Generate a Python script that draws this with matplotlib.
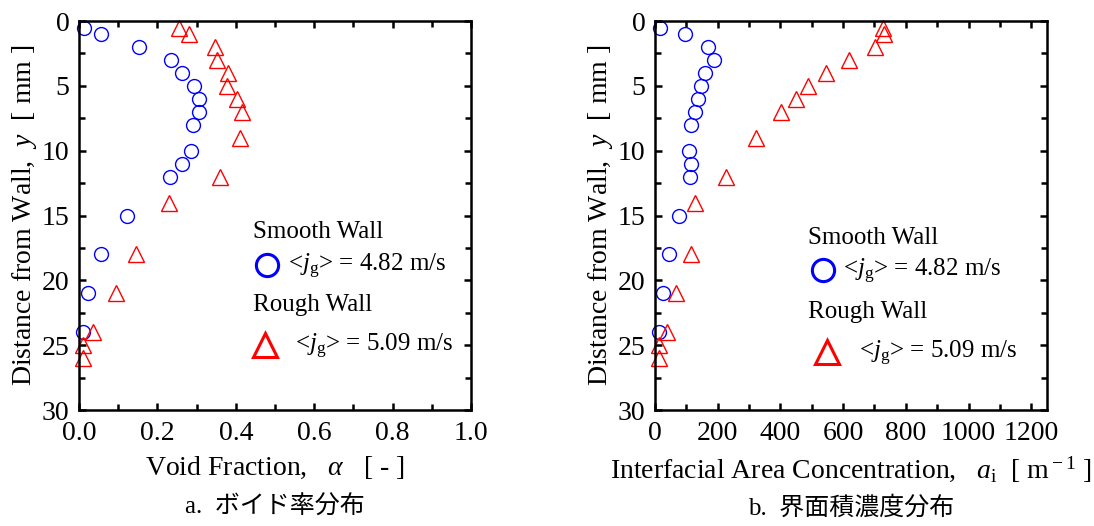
import matplotlib
matplotlib.use("Agg")
import matplotlib.pyplot as plt
from matplotlib.ticker import MultipleLocator, FormatStrFormatter

plt.rcParams["font.family"] = ["Liberation Serif", "Noto Sans CJK JP"]
plt.rcParams["mathtext.fontset"] = "custom"
plt.rcParams["mathtext.rm"] = "Liberation Serif"
plt.rcParams["mathtext.it"] = "Liberation Serif:italic"

# distance from wall [mm]
y_smooth = [0.5, 1, 2, 3, 4, 5, 6, 7, 8, 10, 11, 12, 15, 18, 21, 24]
y_rough = [0.5, 1, 2, 3, 4, 5, 6, 7, 9, 12, 14, 18, 21, 24, 25, 26]

# void fraction
alpha_smooth = [0.013, 0.056, 0.154, 0.234, 0.264, 0.293, 0.307, 0.306,
                0.292, 0.285, 0.263, 0.232, 0.122, 0.055, 0.024, 0.011]
alpha_rough = [0.255, 0.280, 0.347, 0.353, 0.381, 0.378, 0.402, 0.416,
               0.412, 0.361, 0.230, 0.145, 0.094, 0.035, 0.010, 0.010]

# interfacial area concentration [1/m]
ai_smooth = [17, 97, 168, 188, 160, 147, 137, 127,
             116, 107, 115, 112, 77, 44, 24, 14]
ai_rough = [727, 730, 701, 618, 544, 487, 450, 402,
            323, 226, 129, 114, 66, 39, 14, 14]

BLUE = "#0000ff"
RED = "#ff0000"
FS = 20

fig = plt.figure(figsize=(10.94, 5.26), dpi=100)
ax1 = fig.add_axes([0.0722, 0.2205, 0.3583, 0.7395])
ax2 = fig.add_axes([0.5987, 0.2205, 0.3583, 0.7395])


def style_axes(ax):
    ax.set_ylim(30, 0)
    ax.yaxis.set_major_locator(MultipleLocator(5))
    ax.yaxis.set_minor_locator(MultipleLocator(2.5))
    ax.tick_params(which="both", direction="in", top=True, right=True,
                   width=1.8, labelsize=FS)
    ax.tick_params(which="major", length=5, pad=7)
    ax.tick_params(which="minor", length=4)
    ax.tick_params(axis="x", which="major", pad=8)
    for sp in ax.spines.values():
        sp.set_linewidth(1.8)
    ax.set_ylabel("Distance from Wall,  $y$  [ mm ]", fontsize=FS, labelpad=2)


def draw_legend(ax, pos):
    (sx, sy), (cx, cy), (tx1, ty1), (rx, ry), (trx, try_), (tx2, ty2) = pos
    ax.text(sx, sy, "Smooth Wall", transform=ax.transAxes, fontsize=18, va="center")
    ax.plot([cx], [cy], "o", ms=16, mfc="none", mec=BLUE, mew=2.2,
            transform=ax.transAxes, clip_on=False)
    ax.text(tx1, ty1, r"<$j_{\rm g}$> = 4.82 m/s", transform=ax.transAxes,
            fontsize=18, va="center")
    ax.text(rx, ry, "Rough Wall", transform=ax.transAxes, fontsize=18, va="center")
    ax.plot([trx], [try_], "^", ms=17, mfc="none", mec=RED, mew=2.2,
            transform=ax.transAxes, clip_on=False)
    ax.text(tx2, ty2, r"<$j_{\rm g}$> = 5.09 m/s", transform=ax.transAxes,
            fontsize=18, va="center")


# panel a
ax1.plot(alpha_smooth, y_smooth, "o", ms=10, mfc="none", mec=BLUE, mew=1, clip_on=False)
ax1.plot(alpha_rough, y_rough, "^", ms=12, mfc="none", mec=RED, mew=1, clip_on=False)
ax1.set_xlim(0, 1.0)
ax1.xaxis.set_major_locator(MultipleLocator(0.2))
ax1.xaxis.set_minor_locator(MultipleLocator(0.1))
ax1.xaxis.set_major_formatter(FormatStrFormatter("%.1f"))
style_axes(ax1)
ax1.set_xlabel(r"Void Fraction,   $\alpha$   [ - ]", fontsize=FS, labelpad=6)
draw_legend(ax1, [(0.444, 0.458), (0.480, 0.373), (0.533, 0.370),
                  (0.444, 0.270), (0.474, 0.167), (0.551, 0.164)])

# panel b
ax2.plot(ai_smooth, y_smooth, "o", ms=10, mfc="none", mec=BLUE, mew=1, clip_on=False)
ax2.plot(ai_rough, y_rough, "^", ms=12, mfc="none", mec=RED, mew=1, clip_on=False)
ax2.set_xlim(0, 1250)
ax2.xaxis.set_major_locator(MultipleLocator(200))
ax2.xaxis.set_minor_locator(MultipleLocator(100))
style_axes(ax2)
ax2.set_xlabel(r"Interfacial Area Concentration,   $a_{\rm i}$  [ m$^{\rm -1}$ ]",
               fontsize=FS, labelpad=6)
draw_legend(ax2, [(0.390, 0.442), (0.429, 0.360), (0.480, 0.357),
                  (0.390, 0.252), (0.439, 0.149), (0.520, 0.146)])

fig.text(0.2514, 0.035, "a.  ボイド率分布", ha="center", va="center", fontsize=18)
fig.text(0.7779, 0.035, "b.  界面積濃度分布", ha="center", va="center", fontsize=18)

fig.savefig("out.png", dpi=100)
